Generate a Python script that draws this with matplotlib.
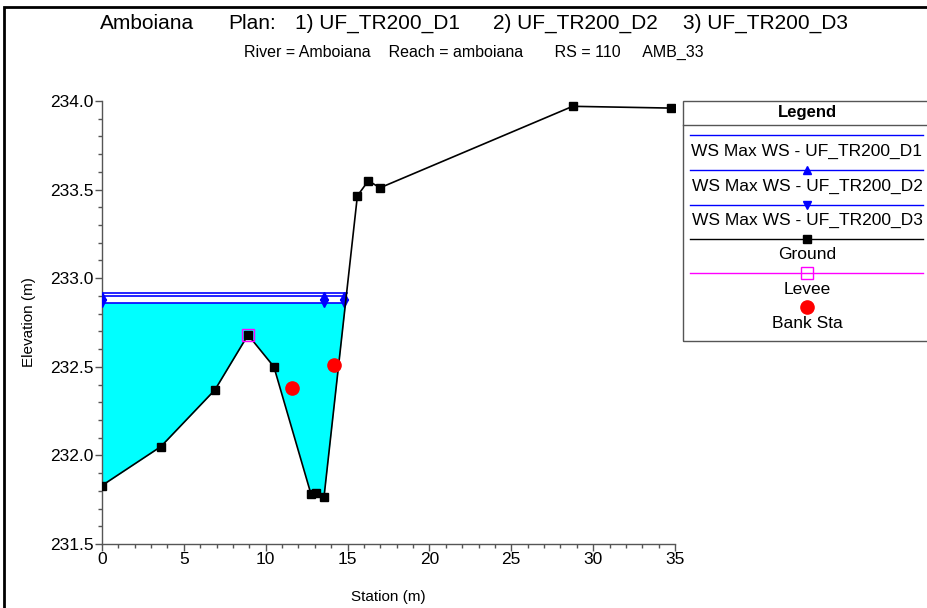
import numpy as np
import matplotlib
matplotlib.use("Agg")
import matplotlib.pyplot as plt
from matplotlib.lines import Line2D
from matplotlib.patches import Rectangle
from matplotlib.ticker import MultipleLocator, FormatStrFormatter

plt.rcParams['font.family'] = ['Liberation Sans', 'DejaVu Sans']

# ground profile (station, elevation)
gr_sta = [0.0, 3.6, 6.9, 8.92, 10.5, 12.77, 13.1, 13.56, 15.6, 16.27, 16.98, 28.75, 34.76]
gr_elev = [231.83, 232.05, 232.37, 232.68, 232.50, 231.78, 231.79, 231.765, 233.465, 233.55, 233.51, 233.97, 233.96]

# water surface elevations
ws_names = ['WS Max WS - UF_TR200_D1', 'WS Max WS - UF_TR200_D2', 'WS Max WS - UF_TR200_D3']
ws_elev = [232.917, 232.899, 232.862]
ws_mark = [None, '^', 'v']
ws_marker_sta = [0.0, 13.56, 14.78]

levee_sta, levee_elev = [8.92], [232.68]
bank_sta = [11.6, 14.17]
bank_elev = [232.38, 232.51]

title_parts = ['Amboiana', 'Plan:', '1) UF_TR200_D1', '2) UF_TR200_D2', '3) UF_TR200_D3']
subtitle = 'River = Amboiana    Reach = amboiana       RS = 110     AMB_33'

gx = np.array(gr_sta)
gy = np.array(gr_elev)


def right_edge(ws):
    # first crossing of the ground on the right bank
    for i in range(7, len(gx) - 1):
        if gy[i] <= ws <= gy[i + 1]:
            return gx[i] + (ws - gy[i]) * (gx[i + 1] - gx[i]) / (gy[i + 1] - gy[i])
    return gx[-1]


def fx_(px):
    return px / 928


def fy_(py):
    return 1 - py / 608


fig = plt.figure(figsize=(9.28, 6.08), dpi=100, facecolor='white')
ax = fig.add_axes([fx_(102), fy_(544), (675 - 102) / 928, (544 - 101) / 608])

# cyan fill under the lowest water surface
wlow = min(ws_elev)
xe = right_edge(wlow)
fx = np.append(gx[gx < xe], xe)
fy = np.append(gy[gx < xe], wlow)
ax.fill_between(fx, fy, wlow, color='#00FFFF', lw=0, zorder=1)

for nm, ws, mk in zip(ws_names, ws_elev, ws_mark):
    xr = right_edge(ws)
    ax.plot([0, xr], [ws, ws], color='#0000FF', lw=1.2, zorder=2)
    if mk:
        ax.plot(ws_marker_sta, [ws] * len(ws_marker_sta), ls='none', marker=mk,
                color='#0000FF', ms=6, zorder=3)

ax.plot(gr_sta, gr_elev, color='black', lw=1.2, marker='s', ms=5.5, zorder=4)
ax.plot(levee_sta, levee_elev, ls='none', marker='s', ms=9, mfc='none',
        mec='#FF00FF', mew=1, zorder=5)
ax.plot(bank_sta, bank_elev, ls='none', marker='o', ms=9.5, color='#FF0000', zorder=6)

ax.set_xlim(0, 35)
ax.set_ylim(231.5, 234.0)
ax.xaxis.set_major_locator(MultipleLocator(5))
ax.xaxis.set_minor_locator(MultipleLocator(1))
ax.yaxis.set_major_locator(MultipleLocator(0.5))
ax.yaxis.set_minor_locator(MultipleLocator(0.1))
ax.yaxis.set_major_formatter(FormatStrFormatter('%.1f'))
ax.spines['top'].set_visible(False)
ax.spines['right'].set_visible(False)
for s in ['left', 'bottom']:
    ax.spines[s].set_color('#555555')
    ax.spines[s].set_linewidth(1)
ax.tick_params(which='major', direction='out', length=5, width=1, color='#555555',
               labelsize=12.5, pad=1)
ax.tick_params(which='minor', direction='out', length=3, width=1, color='#555555')
ax.set_xlabel('Station (m)', fontsize=11, labelpad=16)
ax.set_ylabel('Elevation (m)', fontsize=11, labelpad=10)

for txt, px in zip(title_parts, [100, 228, 295, 493, 683]):
    fig.text(fx_(px), fy_(29), txt, ha='left', va='baseline', fontsize=15)
fig.text(fx_(474), fy_(57), subtitle, ha='center', va='baseline', fontsize=11.5)

# outer frame
fig.add_artist(Rectangle((fx_(4), -0.05), 1.1, 1 - 7 / 608 + 0.05, transform=fig.transFigure,
                         fill=False, ec='black', lw=2))

# legend box
fig.add_artist(Rectangle((fx_(683), fy_(341)), fx_(260), (341 - 101) / 608,
                         transform=fig.transFigure, fill=False, ec='#555555', lw=1))
fig.add_artist(Line2D([fx_(683), fx_(940)], [fy_(125), fy_(125)], transform=fig.transFigure,
                      color='#555555', lw=1))
fig.text(fx_(807), fy_(112), 'Legend', ha='center', va='center', fontsize=12, fontweight='bold')

leg_items = [
    (135, 151, '#0000FF', None, 'none', ws_names[0]),
    (170, 186, '#0000FF', '^', '#0000FF', ws_names[1]),
    (205, 220, '#0000FF', 'v', '#0000FF', ws_names[2]),
    (239, 255, 'black', 's', 'black', 'Ground'),
    (273, 290, '#FF00FF', 's', 'none', 'Levee'),
    (307, 323, None, 'o', '#FF0000', 'Bank Sta'),
]
for ly, ty, lc, mk, mf, lab in leg_items:
    if lc:
        fig.add_artist(Line2D([fx_(690), fx_(923)], [fy_(ly), fy_(ly)], transform=fig.transFigure,
                              color=lc, lw=1))
    if mk:
        ms = {'^': 6, 'v': 6, 's': 6 if lab == 'Ground' else 9, 'o': 9.5}[mk]
        mec = lc if lc else '#FF0000'
        fig.add_artist(Line2D([fx_(807)], [fy_(ly)], transform=fig.transFigure, ls='none',
                              marker=mk, ms=ms, mfc=mf, mec=mec, mew=1))
    fig.text(fx_(807), fy_(ty), lab, ha='center', va='center', fontsize=12.5)

fig.savefig('out.png', dpi=100)
